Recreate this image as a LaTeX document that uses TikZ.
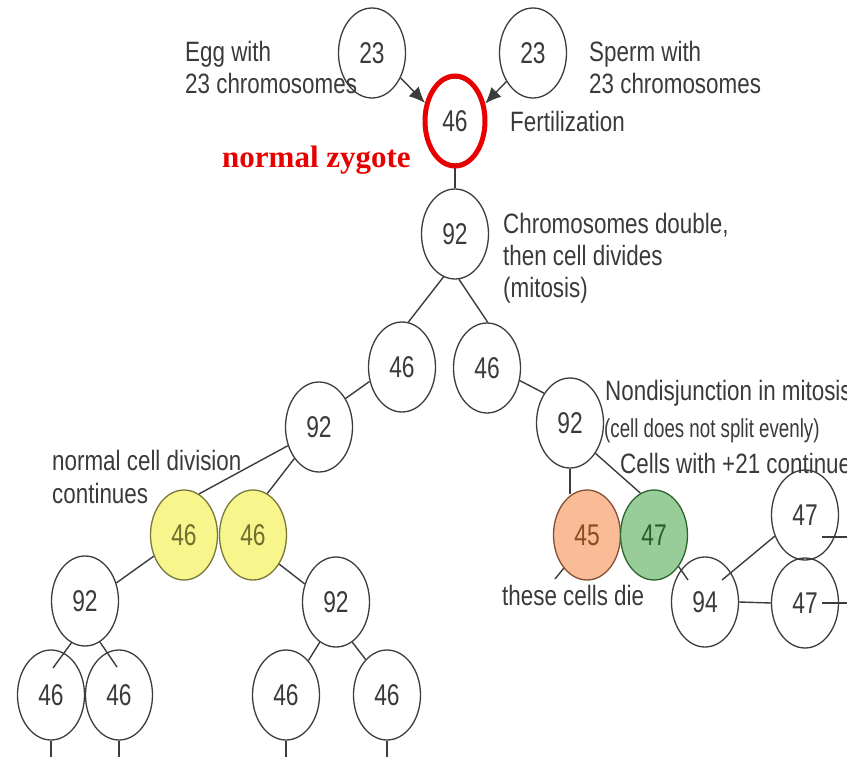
\documentclass[tikz,border=0pt]{standalone}
\usepackage{fontspec}
\usetikzlibrary{shapes.geometric,arrows.meta,calc}
\newfontfamily\lblfam[FakeStretch=0.8]{Liberation Sans}
\newfontfamily\smallfam[FakeStretch=0.72]{Liberation Sans}
\newfontfamily\numfam[FakeStretch=0.76]{Liberation Sans}
\newfontfamily\redfam{Liberation Serif}
\definecolor{txtgray}{RGB}{58,58,58}
\definecolor{linegray}{RGB}{60,60,60}
\definecolor{zred}{RGB}{232,0,0}
\definecolor{yelfill}{RGB}{247,245,140}
\definecolor{yeltxt}{RGB}{110,110,45}
\definecolor{yelline}{RGB}{120,120,60}
\definecolor{orfill}{RGB}{249,188,150}
\definecolor{ortxt}{RGB}{140,75,35}
\definecolor{orline}{RGB}{130,80,50}
\definecolor{grfill}{RGB}{152,204,152}
\definecolor{grtxt}{RGB}{40,95,40}
\definecolor{grline}{RGB}{45,100,45}
\tikzset{
  cell/.style={ellipse, draw=linegray, line width=1.3pt, minimum width=67pt,
    minimum height=90pt, inner sep=0pt, text=txtgray,
    font=\numfam\fontsize{30}{32}\selectfont},
  yelcell/.style={cell, fill=yelfill, draw=yelline, text=yeltxt},
  orcell/.style={cell, fill=orfill, draw=orline, text=ortxt},
  grcell/.style={cell, fill=grfill, draw=grline, text=grtxt},
  lbl/.style={anchor=base west, inner sep=0pt, align=left, text=txtgray,
    font=\lblfam\fontsize{28}{32.5}\selectfont},
  smalllbl/.style={anchor=base west, inner sep=0pt, text=txtgray,
    font=\smallfam\fontsize{26}{28}\selectfont},
  conn/.style={draw=linegray, line width=1.4pt},
  arr/.style={conn, -{Latex[length=16pt,width=14pt]}}
}
\begin{document}
\begin{tikzpicture}[x=1pt,y=-1pt]
\useasboundingbox (0,0) rectangle (847,757);
\clip (0,0) rectangle (847,757);
% cells
\node[cell] (egg) at (372,53) {23};
\node[cell] (sperm) at (533,53) {23};
\node[cell, minimum width=62pt, minimum height=86pt] (zyg) at (455,121) {46};
\node[ellipse, draw=zred, line width=5pt, minimum width=60pt, minimum height=90pt] (zr) at (455,121) {};
\node[cell] (n92) at (455,234) {92};
\node[cell] (a46) at (402,367) {46};
\node[cell] (b46) at (487,368) {46};
\node[cell] (m92l) at (319,427) {92};
\node[cell] (m92r) at (570,423) {92};
\node[yelcell] (y1) at (184,535) {46};
\node[yelcell] (y2) at (253,535) {46};
\node[orcell] (d45) at (587,535) {45};
\node[grcell] (g47) at (654,535) {47};
\node[cell] (l92) at (85,601) {92};
\node[cell] (r92) at (336,602) {92};
\node[cell] (n94) at (705,602) {94};
\node[cell] (t47) at (805,515) {47};
\node[cell] (u47) at (805,603) {47};
\node[cell] (bl1) at (51,695) {46};
\node[cell] (bl2) at (119,695) {46};
\node[cell] (br1) at (286,695) {46};
\node[cell] (br2) at (387,695) {46};
% free ends
\coordinate (e1) at (51,760);
\coordinate (e2) at (119,760);
\coordinate (e3) at (286,760);
\coordinate (e4) at (387,760);
\coordinate (offA) at (850,537);
\coordinate (offB) at (850,603);
\coordinate (dieend) at (555,579);
% connectors
\draw[arr] (egg.-41) -- (zr.149);
\draw[arr] (sperm.227) -- (zr.30);
\draw[conn] (zr.south) -- (n92.north);
\draw[conn] (n92.255) -- (a46.82);
\draw[conn] (n92.275) -- (b46.89);
\draw[conn] (a46.204) -- (m92l.47);
\draw[conn] (b46.-21) -- (m92r.131);
\draw[conn] (m92l.211) -- (y1.70);
\draw[conn] (m92l.232) -- (y2.71);
\draw[conn] (y1.215) -- (l92.30);
\draw[conn] (y2.-48) -- (r92.150);
\draw[conn] (l92.252) -- ($(bl1.center)+(2,-27)$);
\draw[conn] (l92.290) -- ($(bl2.center)+(-2,-28)$);
\draw[conn] (r92.248) -- (br1.57);
\draw[conn] (r92.292) -- (br2.121);
\draw[conn] (bl1.south) -- (e1);
\draw[conn] (bl2.south) -- (e2);
\draw[conn] (br1.south) -- (e3);
\draw[conn] (br2.south) -- (e4);
\draw[conn] (m92r.south) -- (m92r.south |- d45.110);
\draw[conn] (m92r.-50) -- (g47.108);
\draw[conn] (g47.-52) -- ($(n94.center)+(-17,-22)$);
\draw[conn] ($(n94.center)+(17,-22)$) -- (t47.215);
\draw[conn] (n94.east) -- (u47.west);
\draw[conn] ($(t47.center)+(17,22)$) -- (offA);
\draw[conn] ($(u47.center)+(17,0)$) -- (offB);
\draw[conn] (d45.235) -- (dieend);
% labels (base anchor = baseline of last line)
\node[lbl] (tegg) at (185,94) {Egg with\\23 chromosomes};
\node[lbl] (tsperm) at (589,94) {Sperm with\\23 chromosomes};
\node[lbl] (tfert) at (510,132) {Fertilization};
\node[anchor=base west, inner sep=0pt, text=zred, font=\redfam\bfseries\fontsize{31}{34}\selectfont] (tzyg) at (222,168) {normal zygote};
\node[lbl] (tdouble) at (503,298) {Chromosomes double,\\then cell divides\\(mitosis)};
\node[lbl] (tnondis) at (605,400) {Nondisjunction in mitosis};
\node[smalllbl] (tsplit) at (604,437) {(cell does not split evenly)};
\node[lbl] (tcont) at (620,473) {Cells with +21 continue};
\node[lbl] (tnormal) at (52,503) {normal cell division\\continues};
\node[lbl] (tdie) at (502,605) {these cells die};
\end{tikzpicture}
\end{document}
